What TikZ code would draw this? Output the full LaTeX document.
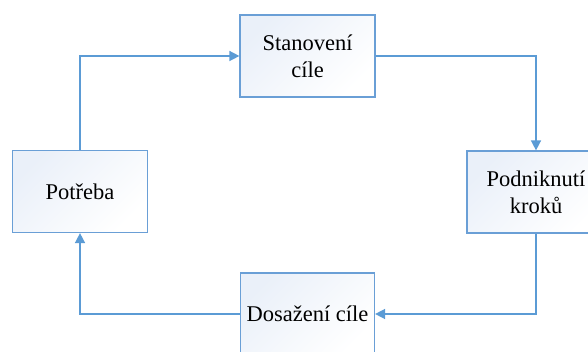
\documentclass[tikz,border=0pt]{standalone}
\usepackage{fontspec}
\setmainfont{Liberation Serif}
\usetikzlibrary{arrows.meta}
\definecolor{boxline}{HTML}{6A9FD6}
\definecolor{conline}{HTML}{5B9BD5}
\definecolor{boxfill}{HTML}{EAF0F9}
\tikzset{
  stepbox/.style={draw=boxline, line width=1.2pt, top color=boxfill, bottom color=white, shading angle=45,
    minimum width=135pt, minimum height=82pt, align=center, inner sep=0pt,
    font=\fontsize{22.5}{27}\selectfont},
  conn/.style={draw=conline, line width=1.5pt, -{Triangle[length=10pt,width=10pt]}}
}
\begin{document}
\begin{tikzpicture}[x=1pt,y=-1pt]
\useasboundingbox (0,0) rectangle (588,352);
\clip (0,0) rectangle (588,352);
\node[stepbox] (S) at (307.5,56) {Stanovení\\cíle};
\node[stepbox] (P) at (80,191.5) {Potřeba};
\node[stepbox, minimum width=138pt] (K) at (536,192) {Podniknutí\\kroků};
\node[stepbox, minimum width=134pt] (D) at (307.5,314) {Dosažení cíle};
\draw[conn] (S.east) -| (K.north);
\draw[conn] (K.south) |- (D.east);
\draw[conn] (D.west) -| (P.south);
\draw[conn] (P.north) |- (S.west);
\end{tikzpicture}
\end{document}
